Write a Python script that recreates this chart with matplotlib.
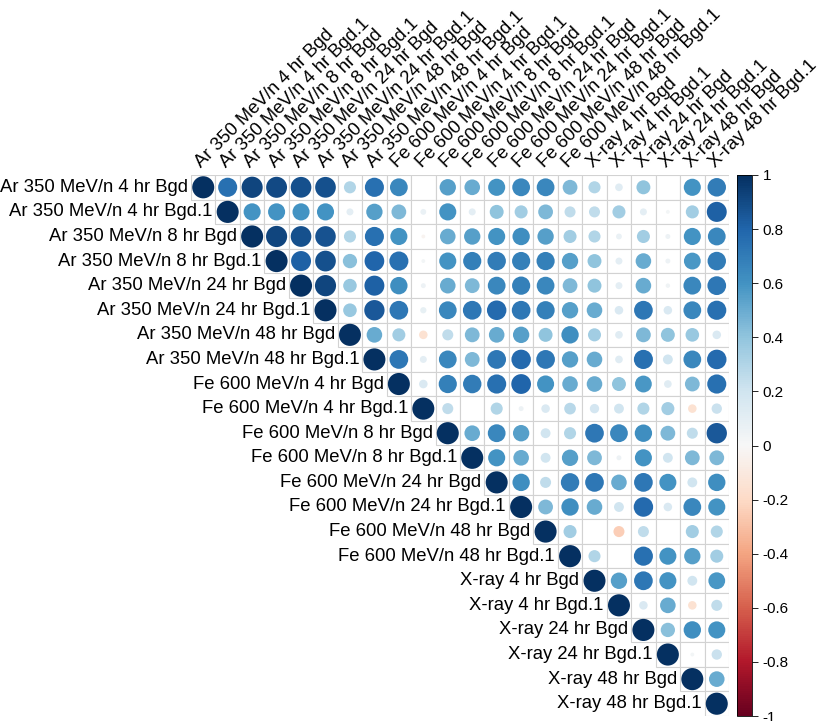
import numpy as np
import matplotlib
matplotlib.use("Agg")
import matplotlib.pyplot as plt
from matplotlib.patches import Circle, Rectangle
from matplotlib.colors import Normalize

plt.rcParams['font.family'] = ['Liberation Sans', 'DejaVu Sans']

labels = [
    "Ar 350 MeV/n 4 hr Bgd", "Ar 350 MeV/n 4 hr Bgd.1",
    "Ar 350 MeV/n 8 hr Bgd", "Ar 350 MeV/n 8 hr Bgd.1",
    "Ar 350 MeV/n 24 hr Bgd", "Ar 350 MeV/n 24 hr Bgd.1",
    "Ar 350 MeV/n 48 hr Bgd", "Ar 350 MeV/n 48 hr Bgd.1",
    "Fe 600 MeV/n 4 hr Bgd", "Fe 600 MeV/n 4 hr Bgd.1",
    "Fe 600 MeV/n 8 hr Bgd", "Fe 600 MeV/n 8 hr Bgd.1",
    "Fe 600 MeV/n 24 hr Bgd", "Fe 600 MeV/n 24 hr Bgd.1",
    "Fe 600 MeV/n 48 hr Bgd", "Fe 600 MeV/n 48 hr Bgd.1",
    "X-ray 4 hr Bgd", "X-ray 4 hr Bgd.1",
    "X-ray 24 hr Bgd", "X-ray 24 hr Bgd.1",
    "X-ray 48 hr Bgd", "X-ray 48 hr Bgd.1",
]

# upper triangle, each row starts at the column right after the diagonal
upper_rows = [
    [0.75, 0.92, 0.90, 0.88, 0.88, 0.30, 0.75, 0.65, 0.00, 0.55, 0.50, 0.60, 0.65, 0.65, 0.45, 0.30, 0.12, 0.40, 0.00, 0.60, 0.70],
    [0.60, 0.60, 0.60, 0.60, 0.10, 0.55, 0.45, 0.07, 0.60, 0.10, 0.40, 0.35, 0.45, 0.25, 0.25, 0.35, 0.10, 0.03, 0.35, 0.82],
    [0.92, 0.88, 0.87, 0.30, 0.75, 0.60, -0.03, 0.50, 0.55, 0.60, 0.62, 0.55, 0.35, 0.30, 0.07, 0.35, 0.05, 0.60, 0.65],
    [0.82, 0.88, 0.42, 0.80, 0.75, 0.03, 0.60, 0.68, 0.70, 0.68, 0.68, 0.55, 0.40, 0.10, 0.50, 0.05, 0.58, 0.70],
    [0.92, 0.38, 0.82, 0.62, 0.05, 0.50, 0.45, 0.65, 0.68, 0.65, 0.45, 0.40, 0.10, 0.50, 0.04, 0.65, 0.72],
    [0.38, 0.85, 0.72, 0.08, 0.65, 0.72, 0.78, 0.72, 0.68, 0.55, 0.50, 0.15, 0.72, 0.15, 0.65, 0.75],
    [0.50, 0.35, -0.15, 0.25, 0.45, 0.50, 0.55, 0.40, 0.62, 0.35, 0.12, 0.45, 0.40, 0.38, 0.15],
    [0.72, 0.10, 0.65, 0.45, 0.72, 0.78, 0.72, 0.55, 0.50, 0.12, 0.75, 0.20, 0.65, 0.78],
    [0.15, 0.68, 0.70, 0.75, 0.80, 0.60, 0.50, 0.50, 0.40, 0.58, 0.12, 0.45, 0.75],
    [0.25, 0.00, 0.30, 0.05, 0.15, 0.28, 0.18, 0.20, 0.30, 0.35, -0.15, 0.22],
    [0.50, 0.65, 0.55, 0.20, 0.30, 0.72, 0.65, 0.62, 0.45, 0.25, 0.85],
    [0.60, 0.50, 0.20, 0.55, 0.45, 0.05, 0.60, 0.20, 0.45, 0.45],
    [0.62, 0.25, 0.70, 0.72, 0.50, 0.72, 0.60, 0.20, 0.62],
    [0.45, 0.62, 0.50, 0.20, 0.78, 0.15, 0.65, 0.60],
    [0.35, 0.00, -0.25, 0.25, 0.00, 0.35, 0.30],
    [0.30, 0.00, 0.75, 0.60, 0.55, 0.35],
    [0.55, 0.72, 0.60, 0.20, 0.58],
    [0.15, 0.50, -0.15, 0.25],
    [0.42, 0.62, 0.60],
    [0.03, 0.22],
    [0.50],
    [],
]

n = len(labels)
corr = np.eye(n)
for i, row in enumerate(upper_rows):
    for k, v in enumerate(row):
        corr[i, i + 1 + k] = v

cmap = plt.get_cmap('RdBu')
norm = Normalize(-1, 1)

fig = plt.figure(figsize=(8.35, 7.21), dpi=100)
ax = fig.add_axes([191 / 835, 5 / 721, 538 / 835, 541 / 721])
ax.set_xlim(-0.5, n - 0.5)
ax.set_ylim(n - 0.5, -0.5)
ax.axis('off')

for i in range(n):
    for j in range(i, n):
        ax.add_patch(Rectangle((j - 0.5, i - 0.5), 1, 1, facecolor='white',
                               edgecolor='#d2d2d2', linewidth=0.8, zorder=1))
        v = corr[i, j]
        if abs(v) < 1e-3:
            continue
        r = 0.45 * np.sqrt(abs(v))
        ax.add_patch(Circle((j, i), r, facecolor=cmap(norm(v)),
                            edgecolor='none', zorder=2))

# row labels on the diagonal, column labels on top
for i, lab in enumerate(labels):
    ax.text(i - 0.62, i, lab, ha='right', va='center', fontsize=13.3,
            clip_on=False)
    ax.text(i + 0.05, -0.65, lab, ha='left', va='bottom', fontsize=13.3,
            rotation=45, rotation_mode='anchor', clip_on=False)

# colour legend
cax = fig.add_axes([737 / 835, 5 / 721, 15 / 835, 541 / 721])
sm = plt.cm.ScalarMappable(norm=norm, cmap=cmap)
cb = fig.colorbar(sm, cax=cax)
ticks = np.round(np.arange(-1, 1.01, 0.2), 1)
cb.set_ticks(ticks)
cb.set_ticklabels(["0" if abs(t) < 1e-9 else "{:g}".format(t) for t in ticks])
cb.ax.tick_params(labelsize=11, length=4, width=0.6)
cb.outline.set_linewidth(0.6)

fig.savefig("out.png", dpi=100)
